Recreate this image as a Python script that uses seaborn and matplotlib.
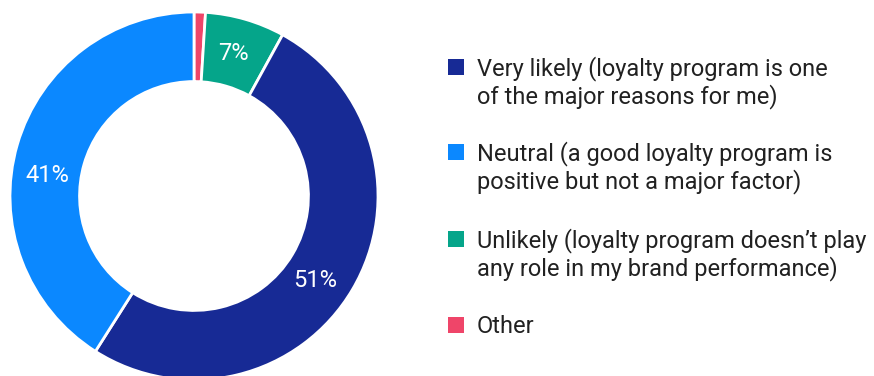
import matplotlib
matplotlib.use("Agg")
import numpy as np
import matplotlib.pyplot as plt
from matplotlib.patches import Rectangle
import seaborn as sns

# Survey answers, in legend order
categories = ["Very likely", "Neutral", "Unlikely", "Other"]
legend_lines = [
    ["Very likely (loyalty program is one", "of the major reasons for me)"],
    ["Neutral (a good loyalty program is", "positive but not a major factor)"],
    ["Unlikely (loyalty program doesn\u2019t play", "any role in my brand performance)"],
    ["Other"],
]
shares = [51, 41, 7, 1]
colors = ["#172A95", "#0B88FF", "#05A58A", "#EF4569"]

# Order of the slices going clockwise from twelve o'clock
ring_order = [3, 2, 0, 1]
# Where each percentage label sits (degrees clockwise from twelve o'clock)
label_angles = [125, 278, 15.5, None]

sns.set_theme(style="white")
plt.rcParams["font.family"] = ["Roboto", "DejaVu Sans"]

W, H = 874, 376
fig = plt.figure(figsize=(W / 100, H / 100), dpi=100)
fig.patch.set_facecolor("white")

# Donut: centre (194, 196) px, outer radius 184 px
cx, cy, R = 194, 196, 184
ax = fig.add_axes([(cx - R) / W, (H - cy - R) / H, 2 * R / W, 2 * R / H])

vals = [shares[i] for i in ring_order]
cols = [colors[i] for i in ring_order]


def pct_label(p):
    return f"{p:.0f}%" if p >= 5 else ""


wedges, _, autotexts = ax.pie(
    vals,
    colors=cols,
    startangle=90,
    counterclock=False,
    radius=1.0,
    autopct=pct_label,
    pctdistance=0.81,
    wedgeprops=dict(width=0.378, edgecolor="white", linewidth=2),
    textprops=dict(color="white", fontsize=17),
)
for t, i in zip(autotexts, ring_order):
    a = label_angles[i]
    if a is not None:
        th = np.deg2rad(a)
        t.set_position((0.805 * np.sin(th), 0.805 * np.cos(th)))

ax.set_xlim(-1, 1)
ax.set_ylim(-1, 1)
ax.set_aspect("equal")
ax.axis("off")

# Legend drawn entry by entry so the square lines up with the first text line
sq = 16
marker_x = 448
text_x = 477
baselines = [[75, 103], [160, 188], [247, 275], [333]]
for col, lines, bls in zip(colors, legend_lines, baselines):
    top = bls[0] - sq
    fig.patches.append(
        Rectangle((marker_x / W, 1 - (top + sq) / H), sq / W, sq / H,
                  transform=fig.transFigure, facecolor=col, edgecolor="none")
    )
    for line, b in zip(lines, bls):
        fig.text(text_x / W, 1 - b / H, line, ha="left", va="baseline",
                 fontsize=17, color="#212121")

fig.savefig("out.png", dpi=100, facecolor="white")
